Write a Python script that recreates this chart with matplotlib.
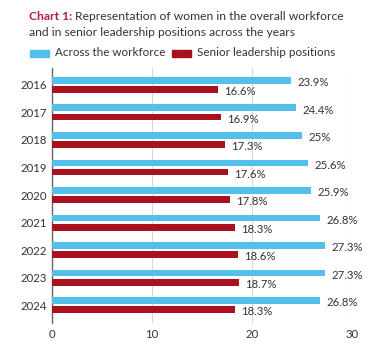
import matplotlib
matplotlib.use("Agg")
import matplotlib.pyplot as plt
import numpy as np
from matplotlib.patches import Rectangle

years = ["2016", "2017", "2018", "2019", "2020", "2021", "2022", "2023", "2024"]
workforce = [23.9, 24.4, 25, 25.6, 25.9, 26.8, 27.3, 27.3, 26.8]
leadership = [16.6, 16.9, 17.3, 17.6, 17.8, 18.3, 18.6, 18.7, 18.3]
workforce_labels = ["23.9%", "24.4%", "25%", "25.6%", "25.9%", "26.8%", "27.3%", "27.3%", "26.8%"]
leadership_labels = ["16.6%", "16.9%", "17.3%", "17.6%", "17.8%", "18.3%", "18.6%", "18.7%", "18.3%"]
x_ticks = [0, 10, 20, 30]

BLUE = "#52C0EA"
RED = "#A8121F"
TEXT = "#333333"
FONT = "Lato"

plt.rcParams["font.family"] = [FONT, "DejaVu Sans"]

W, H = 374, 349
fig = plt.figure(figsize=(W / 100, H / 100), dpi=100)
ax = fig.add_axes([0.140, 0.0745, 0.801, 0.731])

y = np.arange(len(years))
h = 0.25
off = 0.165
ax.barh(y - off, workforce, height=h, color=BLUE, zorder=3)
ax.barh(y + off, leadership, height=h, color=RED, zorder=3)

for yi, v, lab in zip(y, workforce, workforce_labels):
    ax.annotate(lab, (v, yi - off), xytext=(5, -1.5), textcoords="offset points",
                ha="left", va="center", fontsize=8.2, color=TEXT)
for yi, v, lab in zip(y, leadership, leadership_labels):
    ax.annotate(lab, (v, yi + off), xytext=(4, -1.5), textcoords="offset points",
                ha="left", va="center", fontsize=8.2, color=TEXT)

ax.set_xlim(0, 30)
ax.set_ylim(len(years) - 1 + 0.65, -0.62)
ax.set_yticks(y)
ax.set_yticklabels(years)
ax.set_xticks(x_ticks)
ax.tick_params(axis="y", length=0, pad=4, labelsize=8.2, labelcolor=TEXT)
ax.tick_params(axis="x", length=0, pad=4, labelsize=8.2, labelcolor=TEXT)
for s in ["top", "right", "bottom"]:
    ax.spines[s].set_visible(False)
ax.spines["left"].set_color("#666666")
ax.spines["left"].set_linewidth(1.0)
ax.grid(axis="x", color="#d8d8d8", linewidth=0.8, zorder=0)
ax.set_axisbelow(True)

renderer = fig.canvas.get_renderer()

# Title
t1 = fig.text(29 / W, 1 - 16 / H, "Chart 1:", fontsize=8.7, fontweight="bold",
              color="#B0203A", ha="left", va="center")
bb = t1.get_window_extent(renderer)
fig.text((bb.x1 + 3) / W, 1 - 16 / H, "Representation of women in the overall workforce",
         fontsize=8.7, color=TEXT, ha="left", va="center")
fig.text(29 / W, 1 - 32 / H, "and in senior leadership positions across the years",
         fontsize=8.7, color=TEXT, ha="left", va="center")

# Legend
for x0, col, lab in [(30, BLUE, "Across the workforce"),
                     (172, RED, "Senior leadership positions")]:
    fig.patches.append(Rectangle((x0 / W, 1 - 56.5 / H), 19 / W, 7 / H,
                                 transform=fig.transFigure, color=col))
    fig.text((x0 + 25) / W, 1 - 53 / H, lab, fontsize=8.4, color=TEXT,
             ha="left", va="center")

fig.savefig("out.png", dpi=100)
